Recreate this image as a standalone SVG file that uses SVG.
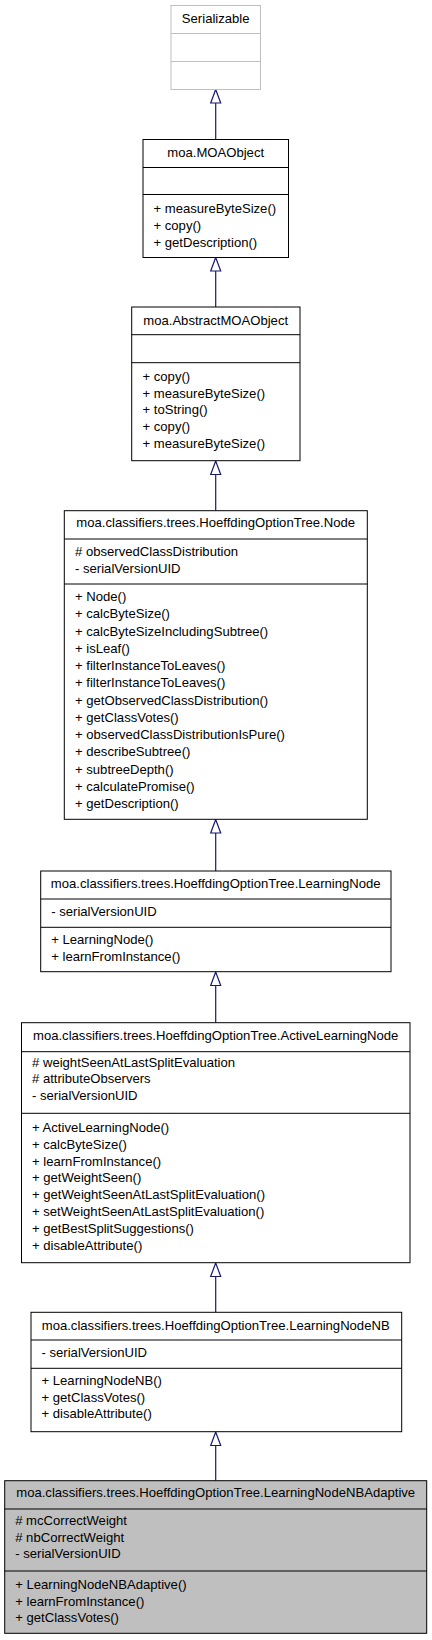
<svg xmlns="http://www.w3.org/2000/svg" width="432" height="1640" viewBox="0 0 432 1640">
<style>
text{font-family:"Liberation Sans",Arial,sans-serif;font-size:13.1px;fill:#000}
.t{text-anchor:middle}
.b{fill:#fff;stroke:#000;stroke-width:1}
.g{fill:#fff;stroke:#bfbfbf;stroke-width:1}
.h{fill:#bfbfbf;stroke:#000;stroke-width:1}
.s{stroke:#000;stroke-width:1}
.sg{stroke:#bfbfbf;stroke-width:1}
.e{stroke:#191970;stroke-width:1.2;fill:none}
.a{fill:#fff;stroke:#191970;stroke-width:1.2}
</style>
<g id="connectors">
<path class="e" d="M215.7,103V139.5"/><polygon class="a" points="215.7,89.5 210.7,103 220.7,103"/>
<path class="e" d="M215.7,271V307"/><polygon class="a" points="215.7,257.5 210.7,271 220.7,271"/>
<path class="e" d="M215.7,474.5V510.7"/><polygon class="a" points="215.7,461 210.7,474.5 220.7,474.5"/>
<path class="e" d="M215.7,833V871"/><polygon class="a" points="215.7,819.5 210.7,833 220.7,833"/>
<path class="e" d="M215.7,985.5V1022.7"/><polygon class="a" points="215.7,972 210.7,985.5 220.7,985.5"/>
<path class="e" d="M215.7,1276.5V1312.3"/><polygon class="a" points="215.7,1263 210.7,1276.5 220.7,1276.5"/>
<path class="e" d="M215.7,1445.5V1480.7"/><polygon class="a" points="215.7,1432 210.7,1445.5 220.7,1445.5"/>
</g>
<g id="serializable">
<rect class="g" x="171" y="5.5" width="89.5" height="84"/>
<path class="sg" d="M171,33.5H260.5M171,61.5H260.5"/>
<text class="t" x="215.7" y="23">Serializable</text>
</g>
<g id="moaobject">
<rect class="b" x="143" y="139.5" width="145.5" height="118"/>
<path class="s" d="M143,167.5H288.5M143,194.5H288.5"/>
<text class="t" x="215.7" y="157">moa.MOAObject</text>
<text x="153.5" y="212.5">+ measureByteSize()</text>
<text x="153.5" y="229.5">+ copy()</text>
<text x="153.5" y="246.5">+ getDescription()</text>
</g>
<g id="abstractmoaobject">
<rect class="b" x="131.7" y="307" width="168.3" height="153.7"/>
<path class="s" d="M131.7,334.7H300M131.7,362.7H300"/>
<text class="t" x="215.7" y="325">moa.AbstractMOAObject</text>
<text x="142.5" y="381">+ copy()</text>
<text x="142.5" y="397.7">+ measureByteSize()</text>
<text x="142.5" y="414.3">+ toString()</text>
<text x="142.5" y="431">+ copy()</text>
<text x="142.5" y="447.7">+ measureByteSize()</text>
</g>
<g id="node">
<rect class="b" x="64.3" y="510.7" width="303" height="308.6"/>
<path class="s" d="M64.3,539H367.3M64.3,584H367.3"/>
<text class="t" x="215.7" y="527.3">moa.classifiers.trees.HoeffdingOptionTree.Node</text>
<text x="75" y="555.5"># observedClassDistribution</text>
<text x="75" y="572.5">- serialVersionUID</text>
<text x="75" y="601">+ Node()</text>
<text x="75" y="618.25">+ calcByteSize()</text>
<text x="75" y="635.5">+ calcByteSizeIncludingSubtree()</text>
<text x="75" y="652.75">+ isLeaf()</text>
<text x="75" y="670">+ filterInstanceToLeaves()</text>
<text x="75" y="687.25">+ filterInstanceToLeaves()</text>
<text x="75" y="704.5">+ getObservedClassDistribution()</text>
<text x="75" y="721.75">+ getClassVotes()</text>
<text x="75" y="739">+ observedClassDistributionIsPure()</text>
<text x="75" y="756.25">+ describeSubtree()</text>
<text x="75" y="773.5">+ subtreeDepth()</text>
<text x="75" y="790.75">+ calculatePromise()</text>
<text x="75" y="808">+ getDescription()</text>
</g>
<g id="learningnode">
<rect class="b" x="40.7" y="871" width="350.3" height="100.7"/>
<path class="s" d="M40.7,899H391M40.7,927.3H391"/>
<text class="t" x="215.7" y="888.3">moa.classifiers.trees.HoeffdingOptionTree.LearningNode</text>
<text x="51.2" y="916">- serialVersionUID</text>
<text x="51.2" y="944.3">+ LearningNode()</text>
<text x="51.2" y="961">+ learnFromInstance()</text>
</g>
<g id="activelearningnode">
<rect class="b" x="21.5" y="1022.7" width="388.5" height="240"/>
<path class="s" d="M21.5,1051.7H410M21.5,1113.3H410"/>
<text class="t" x="215.7" y="1040">moa.classifiers.trees.HoeffdingOptionTree.ActiveLearningNode</text>
<text x="32" y="1066.7"># weightSeenAtLastSplitEvaluation</text>
<text x="32" y="1083.3"># attributeObservers</text>
<text x="32" y="1100">- serialVersionUID</text>
<text x="32" y="1131.7">+ ActiveLearningNode()</text>
<text x="32" y="1148.6">+ calcByteSize()</text>
<text x="32" y="1165.5">+ learnFromInstance()</text>
<text x="32" y="1182.4">+ getWeightSeen()</text>
<text x="32" y="1199.3">+ getWeightSeenAtLastSplitEvaluation()</text>
<text x="32" y="1216.2">+ setWeightSeenAtLastSplitEvaluation()</text>
<text x="32" y="1233.1">+ getBestSplitSuggestions()</text>
<text x="32" y="1250">+ disableAttribute()</text>
</g>
<g id="learningnodenb">
<rect class="b" x="31" y="1312.3" width="370.7" height="119.4"/>
<path class="s" d="M31,1340H401.7M31,1368.3H401.7"/>
<text class="t" x="215.7" y="1330">moa.classifiers.trees.HoeffdingOptionTree.LearningNodeNB</text>
<text x="41.5" y="1357.3">- serialVersionUID</text>
<text x="41.5" y="1385">+ LearningNodeNB()</text>
<text x="41.5" y="1401.7">+ getClassVotes()</text>
<text x="41.5" y="1418.3">+ disableAttribute()</text>
</g>
<g id="learningnodenbadaptive">
<rect class="h" x="4.7" y="1480.7" width="422" height="152.6"/>
<path class="s" d="M4.7,1509H426.7M4.7,1571H426.7"/>
<text class="t" x="215.7" y="1497.3">moa.classifiers.trees.HoeffdingOptionTree.LearningNodeNBAdaptive</text>
<text x="15.2" y="1525"># mcCorrectWeight</text>
<text x="15.2" y="1541.7"># nbCorrectWeight</text>
<text x="15.2" y="1558.3">- serialVersionUID</text>
<text x="15.2" y="1589">+ LearningNodeNBAdaptive()</text>
<text x="15.2" y="1605.7">+ learnFromInstance()</text>
<text x="15.2" y="1622.3">+ getClassVotes()</text>
</g>
</svg>
